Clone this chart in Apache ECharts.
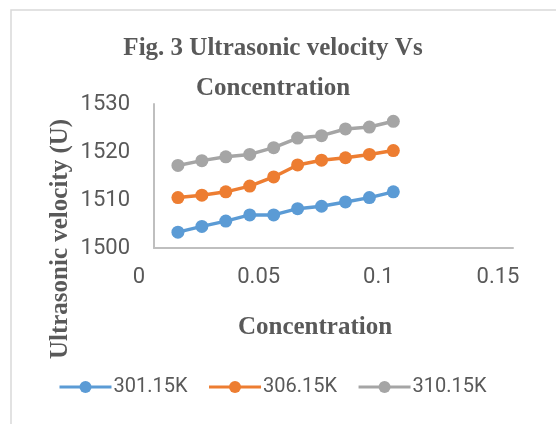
<!DOCTYPE html>
<html>
<head>
<meta charset="utf-8">
<script src="https://cdn.jsdelivr.net/npm/echarts@6/dist/echarts.min.js"></script>
<style>
  html, body { margin: 0; padding: 0; background: #fff; }
  #chart { width: 556px; height: 424px; }
</style>
</head>
<body>
<div id="chart"></div>
<script>
// Concentration values (x) and ultrasonic velocity at each temperature
const concentration = [0.01, 0.02, 0.03, 0.04, 0.05, 0.06, 0.07, 0.08, 0.09, 0.10];
const u301 = [1503.3, 1504.5, 1505.6, 1506.9, 1506.9, 1508.2, 1508.7, 1509.6, 1510.5, 1511.7];
const u306 = [1510.5, 1511.0, 1511.7, 1512.9, 1514.8, 1517.3, 1518.3, 1518.8, 1519.5, 1520.3];
const u310 = [1517.2, 1518.2, 1519.0, 1519.5, 1520.9, 1522.9, 1523.4, 1524.8, 1525.2, 1526.4];
const seriesNames = ['301.15K', '306.15K', '310.15K'];
const seriesColors = ['#5b9bd5', '#ed7d31', '#a5a5a5'];

const numFont = '"Roboto", "Liberation Sans", sans-serif';
const serif = '"Liberation Serif", "DejaVu Serif", serif';
const textColor = '#595959';

const pairs = vals => concentration.map((c, i) => [c, vals[i]]);

const chart = echarts.init(document.getElementById('chart'));
chart.setOption({
  animation: false,
  backgroundColor: '#fff',
  title: {
    text: 'Fig. 3 Ultrasonic velocity Vs\nConcentration',
    left: 268,
    top: 24,
    textAlign: 'center',
    textStyle: {
      fontFamily: serif, fontWeight: 'bold', fontSize: 25,
      lineHeight: 40, color: textColor
    }
  },
  grid: { left: 154, right: 43, top: 104, bottom: 176 },
  xAxis: {
    type: 'value', min: 0, max: 0.15, interval: 0.05,
    axisLine: { lineStyle: { color: '#bfbfbf', width: 2 } },
    axisTick: { show: false },
    splitLine: { show: false },
    axisLabel: {
      color: textColor, fontFamily: numFont, fontSize: 22, margin: 18,
      padding: [0, 30, 0, 0],
      formatter: v => String(v)
    }
  },
  yAxis: {
    type: 'value', min: 1500, max: 1530, interval: 10,
    axisLine: { show: true, lineStyle: { color: '#bfbfbf', width: 2 } },
    axisTick: { show: false },
    splitLine: { show: false },
    axisLabel: {
      color: textColor, fontFamily: numFont, fontSize: 22, margin: 24,
      formatter: v => String(v)
    }
  },
  legend: {
    left: 53, top: 372,
    itemWidth: 52, itemHeight: 15, itemGap: 20,
    lineStyle: { width: 3 },
    textStyle: { color: textColor, fontFamily: numFont, fontSize: 20, padding: [0, 0, 0, -3] },
    data: seriesNames
  },
  graphic: [
    {
      type: 'rect', silent: true, z: -1,
      shape: { x: 11, y: 10, width: 600, height: 500 },
      style: { fill: 'none', stroke: '#d9d9d9', lineWidth: 1.5 }
    },
    {
      type: 'text', x: 61, y: 239, rotation: Math.PI / 2,
      style: {
        text: 'Ultrasonic velocity (U)', fill: textColor,
        font: 'bold 25px ' + serif, align: 'center', verticalAlign: 'middle'
      }
    },
    {
      type: 'text', x: 315, y: 328,
      style: {
        text: 'Concentration', fill: textColor,
        font: 'bold 25px ' + serif, align: 'center', verticalAlign: 'middle'
      }
    }
  ],
  series: [u301, u306, u310].map((vals, i) => ({
    name: seriesNames[i],
    type: 'line',
    data: pairs(vals),
    symbol: 'circle',
    symbolSize: 13,
    color: seriesColors[i],
    lineStyle: { width: 3.5, color: seriesColors[i] },
    itemStyle: { color: seriesColors[i] }
  }))
});
</script>
</body>
</html>
